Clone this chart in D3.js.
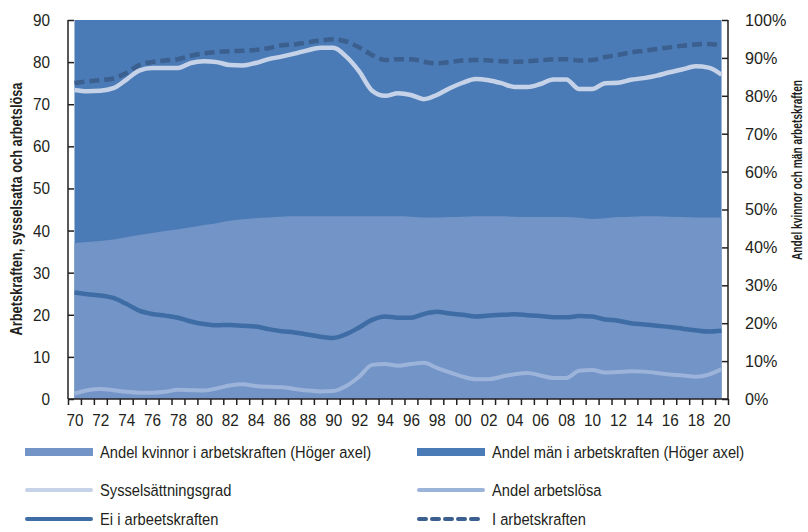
<!DOCTYPE html>
<head>
    <meta charset="utf-8">
    <style>
        body { margin: 0; background: #fff; font-family: 'Liberation Sans', Arial, sans-serif; }
        svg { position: absolute; top: 0; left: 0; }
        .axis text { font-family: 'Liberation Sans', Arial, sans-serif; font-size: 17px; fill: #231f20; }
        .axis path { display: none; }
        .axis line { stroke: #231f20; stroke-width: 1.5px; }
        .title { font-size: 16px; font-weight: bold; fill: #231f20; text-anchor: middle; }
        .legend text { font-size: 17px; fill: #231f20; }
    </style>
    <script src="https://d3js.org/d3.v7.min.js"></script>
</head>
<body>
<script>
    ////////////// Data //////////////
    const years = d3.range(1970, 2021)

    //Andel kvinnor i arbetskraften, procent (hoger axel)
    const kvinnorAndel = [41.1, 41.4, 41.7, 42.1, 42.7, 43.3, 43.8, 44.3, 44.8, 45.3,
        45.9, 46.4, 47.0, 47.4, 47.7, 47.9, 48.1, 48.2, 48.2, 48.2,
        48.2, 48.2, 48.2, 48.2, 48.2, 48.2, 48.1, 47.9, 47.9, 48.0,
        48.1, 48.2, 48.2, 48.2, 48.1, 48.0, 48.0, 48.0, 48.0, 47.8,
        47.5, 47.7, 48.0, 48.1, 48.2, 48.2, 48.1, 48.0, 47.9, 47.9, 47.8]

    const sysselsattning = [73.4, 73.1, 73.2, 73.8, 75.8, 78.0, 78.6, 78.6, 78.6, 79.8,
        80.2, 80.0, 79.3, 79.2, 79.8, 80.7, 81.3, 82.0, 82.8, 83.4,
        83.4, 81.3, 77.8, 73.2, 72.0, 72.6, 72.2, 71.2, 72.2, 73.8,
        75.1, 76.0, 75.7, 75.0, 74.1, 74.1, 74.8, 75.9, 75.9, 73.6,
        73.6, 75.0, 75.1, 75.8, 76.2, 76.8, 77.6, 78.3, 79.0, 78.7, 77.0]

    const iArbetskraften = [75.0, 75.4, 75.7, 76.1, 77.4, 79.3, 80.0, 80.4, 80.7, 81.5,
        82.1, 82.4, 82.6, 82.7, 82.9, 83.3, 84.0, 84.2, 84.7, 85.1,
        85.4, 84.9, 83.5, 81.7, 80.5, 80.7, 80.7, 80.1, 79.7, 80.0,
        80.4, 80.5, 80.4, 80.2, 80.1, 80.2, 80.4, 80.7, 80.7, 80.4,
        80.5, 81.2, 81.7, 82.3, 82.7, 83.1, 83.5, 83.9, 84.2, 84.3, 84.0]

    const eiArbetskraften = [25.3, 24.9, 24.6, 24.0, 22.6, 21.0, 20.2, 19.8, 19.3, 18.4,
        17.8, 17.5, 17.6, 17.4, 17.2, 16.6, 16.1, 15.8, 15.3, 14.8,
        14.5, 15.4, 17.0, 18.8, 19.6, 19.3, 19.3, 20.2, 20.7, 20.3,
        20.0, 19.6, 19.8, 20.0, 20.1, 19.9, 19.7, 19.4, 19.4, 19.7,
        19.6, 18.9, 18.6, 18.0, 17.7, 17.4, 17.1, 16.7, 16.3, 16.0, 16.2]

    const arbetslosa = [1.3, 2.1, 2.4, 2.1, 1.7, 1.5, 1.5, 1.7, 2.2, 2.1,
        2.0, 2.5, 3.2, 3.5, 3.1, 2.9, 2.8, 2.4, 2.0, 1.8,
        1.9, 3.1, 5.3, 8.1, 8.3, 7.9, 8.3, 8.6, 7.4, 6.3,
        5.3, 4.7, 4.7, 5.3, 5.9, 6.2, 5.6, 5.0, 5.0, 6.7,
        6.9, 6.3, 6.4, 6.6, 6.5, 6.2, 5.8, 5.6, 5.3, 5.8, 7.1]

    const leftTicks = d3.range(0, 91, 10)
    const rightTicks = d3.range(0, 101, 10)
    const labelYears = d3.range(1970, 2021, 2)

    ////////////// Setup //////////////
    const W = 808, H = 532
    const plot = { left: 68, right: 728, top: 20, bottom: 399 }

    const svg = d3.select("body").append("svg")
        .attr("width", W)
        .attr("height", H)

    const x = d3.scaleLinear()
        .domain([1969.5, 2020.5])
        .range([plot.left, plot.right])

    const yL = d3.scaleLinear().domain([0, 90]).range([plot.bottom, plot.top])
    const yR = d3.scaleLinear().domain([0, 100]).range([plot.bottom, plot.top])

    const colors = {
        men: "#4a7bb6",
        women: "#7394c6",
        syss: "#c5d2e8",
        arbl: "#9cb3da",
        ei: "#3e6ca4",
        iak: "#3b5f8e"
    }

    //narrow fonts are missing, so squeeze text sideways
    function squeeze(sel, s) {
        sel.each(function () {
            const t = d3.select(this)
            const tx = +t.attr("x") || 0
            t.attr("x", 0).attr("transform", "translate(" + tx + ",0) scale(" + s + ",1)")
        })
    }

    ////////////// Areas //////////////
    const areaData = years.map((d, i) => ({ year: d, w: kvinnorAndel[i] }))

    svg.append("path")
        .datum(areaData)
        .attr("fill", colors.men)
        .attr("d", d3.area()
            .x(d => x(d.year))
            .y0(yR(0))
            .y1(yR(100)))

    svg.append("path")
        .datum(areaData)
        .attr("fill", colors.women)
        .attr("d", d3.area()
            .x(d => x(d.year))
            .y0(yR(0))
            .y1(d => yR(d.w))
            .curve(d3.curveMonotoneX))

    ////////////// Lines //////////////
    const line = d3.line()
        .x((d, i) => x(years[i]))
        .y(d => yL(d))
        .curve(d3.curveMonotoneX)

    const series = [
        { values: arbetslosa, color: colors.arbl, width: 4, dash: null },
        { values: eiArbetskraften, color: colors.ei, width: 4.5, dash: null },
        { values: sysselsattning, color: colors.syss, width: 4.5, dash: null },
        { values: iArbetskraften, color: colors.iak, width: 4.5, dash: "10,5" }
    ]

    series.forEach(s => {
        svg.append("path")
            .datum(s.values)
            .attr("fill", "none")
            .attr("stroke", s.color)
            .attr("stroke-width", s.width)
            .attr("stroke-dasharray", s.dash)
            .attr("d", line)
    })

    ////////////// Axes //////////////
    const xAxis = svg.append("g")
        .attr("class", "axis x")
        .attr("transform", "translate(0," + plot.bottom + ")")

    xAxis.append("g")
        .call(d3.axisBottom(x)
            .tickValues(d3.range(1969.5, 2021, 1))
            .tickFormat("")
            .tickSize(6)
            .tickSizeOuter(0))

    const xLabels = xAxis.append("g")
        .call(d3.axisBottom(x)
            .tickValues(labelYears)
            .tickFormat(d => String(d).slice(2))
            .tickSize(0)
            .tickPadding(15))
    xLabels.selectAll("line").remove()
    squeeze(xLabels.selectAll("text"), 0.9)

    xAxis.append("line")
        .attr("x1", plot.left).attr("x2", plot.right)

    const leftAxis = svg.append("g")
        .attr("class", "axis y")
        .attr("transform", "translate(" + plot.left + ",0)")
        .call(d3.axisLeft(yL)
            .tickValues(leftTicks)
            .tickSize(-6)
            .tickPadding(18))
    squeeze(leftAxis.selectAll("text"), 0.9)
    leftAxis.append("line").attr("y1", plot.top).attr("y2", plot.bottom)

    const rightAxis = svg.append("g")
        .attr("class", "axis y2")
        .attr("transform", "translate(" + plot.right + ",0)")
        .call(d3.axisRight(yR)
            .tickValues(rightTicks)
            .tickFormat(d => d + "%")
            .tickSize(-6)
            .tickPadding(17))
    squeeze(rightAxis.selectAll("text"), 0.95)
    rightAxis.append("line").attr("y1", plot.top).attr("y2", plot.bottom)

    ////////////// Titles //////////////
    svg.append("text")
        .attr("class", "title")
        .attr("transform", "translate(22,209) rotate(-90) scale(0.8,1)")
        .text("Arbetskraften, sysselsatta och arbetslösa")

    svg.append("text")
        .attr("class", "title")
        .attr("transform", "translate(802,170) rotate(-90) scale(0.68,1)")
        .style("font-size", "15px")
        .text("Andel kvinnor och män arbetskraften")

    ////////////// Legend //////////////
    const legendItems = [
        { label: "Andel kvinnor i arbetskraften (Höger axel)", type: "rect", color: colors.women, col: 0, row: 0 },
        { label: "Andel män i arbetskraften (Höger axel)", type: "rect", color: colors.men, col: 1, row: 0 },
        { label: "Sysselsättningsgrad", type: "line", color: colors.syss, col: 0, row: 1 },
        { label: "Andel arbetslösa", type: "line", color: colors.arbl, col: 1, row: 1 },
        { label: "Ei i arbeetskraften", type: "line", color: colors.ei, col: 0, row: 2 },
        { label: "I arbetskraften", type: "dash", color: colors.iak, col: 1, row: 2 }
    ]
    const colX = [25, 417], rowY = [452, 490, 519]

    const legend = svg.append("g").attr("class", "legend")
    legendItems.forEach(d => {
        const g = legend.append("g")
            .attr("transform", "translate(" + colX[d.col] + "," + rowY[d.row] + ")")
        if (d.type === "rect") {
            g.append("rect")
                .attr("x", 0).attr("y", -4)
                .attr("width", 68).attr("height", 8)
                .attr("fill", d.color)
        } else {
            g.append("line")
                .attr("x1", 2).attr("x2", 66)
                .attr("stroke", d.color)
                .attr("stroke-width", 4)
                .attr("stroke-linecap", "round")
                .attr("stroke-dasharray", d.type === "dash" ? "7,6" : null)
        }
        g.append("text")
            .attr("x", 75)
            .attr("dy", "0.35em")
            .text(d.label)
    })
    squeeze(legend.selectAll("text"), 0.865)
</script>
</body>
